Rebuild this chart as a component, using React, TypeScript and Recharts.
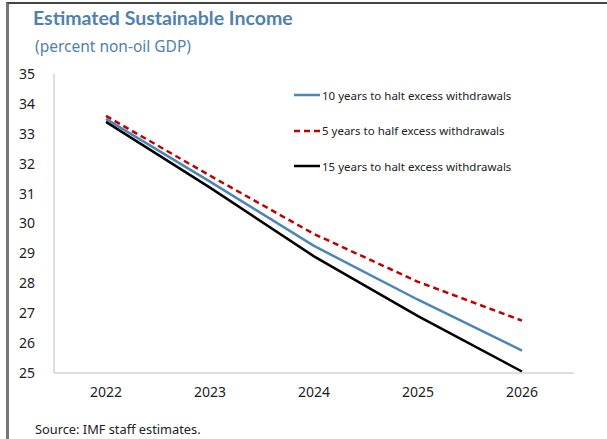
import React from 'react';
import { LineChart, Line, XAxis, YAxis } from 'recharts';

const years = ['2022', '2023', '2024', '2025', '2026'];
const tenYears = [33.5, 31.4, 29.25, 27.45, 25.75];
const fiveYears = [33.6, 31.6, 29.65, 28.05, 26.75];
const fifteenYears = [33.4, 31.2, 28.9, 26.9, 25.05];
const yTicks = [25, 26, 27, 28, 29, 30, 31, 32, 33, 34, 35];

const SERIES = [
  { key: 'ten', name: '10 years to halt excess withdrawals', color: '#4a86ba', dash: undefined },
  { key: 'five', name: '5 years to half excess withdrawals', color: '#c00000', dash: '6 4' },
  { key: 'fifteen', name: '15 years to halt excess withdrawals', color: '#000000', dash: undefined },
];

const data = years.map((year, i) => ({
  year,
  ten: tenYears[i],
  five: fiveYears[i],
  fifteen: fifteenYears[i],
}));

const FONT = '"Noto Sans", "Open Sans", sans-serif';

const LegendBox = () => (
  <div style={{ position: 'absolute', left: 294, top: 86, fontFamily: FONT, fontSize: 11.5, color: '#222' }}>
    {SERIES.map((s) => (
      <div key={s.key} style={{ display: 'flex', alignItems: 'center', height: 18, marginBottom: 17.5 }}>
        <svg width={26} height={4} style={{ marginRight: 2 }}>
          <line x1={0} y1={2} x2={26} y2={2} stroke={s.color} strokeWidth={2.5} strokeDasharray={s.dash} />
        </svg>
        <span>{s.name}</span>
      </div>
    ))}
  </div>
);

export default function App() {
  return (
    <div style={{ position: 'absolute', left: 0, top: 0, width: 607, height: 439, background: '#fff', overflow: 'hidden' }}>
      <div
        style={{
          position: 'absolute',
          left: 6,
          top: 2,
          width: 610,
          height: 450,
          borderTop: '2px solid #444',
          borderLeft: '3px solid #777',
        }}
      />
      <div style={{ position: 'absolute', left: 33, top: 6, fontFamily: 'Lato, "Noto Sans", sans-serif', fontWeight: 700, fontSize: 19.5, color: '#4f81b0' }}>
        Estimated Sustainable Income
      </div>
      <div style={{ position: 'absolute', left: 35, top: 35, fontFamily: FONT, fontSize: 15.5, color: '#4f81b0' }}>
        (percent non-oil GDP)
      </div>
      <div style={{ position: 'absolute', left: 0, top: 0 }}>
        <LineChart width={607} height={439} data={data} margin={{ top: 74, right: 33, bottom: 36, left: 0 }}>
          <XAxis
            dataKey="year"
            stroke="#bfbfbf"
            padding={{ left: 52, right: 52 }}
            tickLine={false}
            tickSize={0}
            tickMargin={14}
            height={30}
            tick={{ fill: '#222', fontSize: 14, fontFamily: FONT }}
          />
          <YAxis
            domain={[25, 35]}
            ticks={yTicks}
            interval={0}
            width={54}
            stroke="#bfbfbf"
            tickLine={false}
            tickSize={0}
            tickMargin={19}
            tick={{ fill: '#222', fontSize: 14, fontFamily: FONT }}
          />
          {SERIES.map((s) => (
            <Line
              key={s.key}
              type="linear"
              dataKey={s.key}
              name={s.name}
              stroke={s.color}
              strokeWidth={2.5}
              strokeDasharray={s.dash}
              dot={false}
              isAnimationActive={false}
            />
          ))}
        </LineChart>
      </div>
      <LegendBox />
      <div style={{ position: 'absolute', left: 35, top: 420, fontFamily: FONT, fontSize: 12.8, color: '#222' }}>
        Source: IMF staff estimates.
      </div>
    </div>
  );
}
